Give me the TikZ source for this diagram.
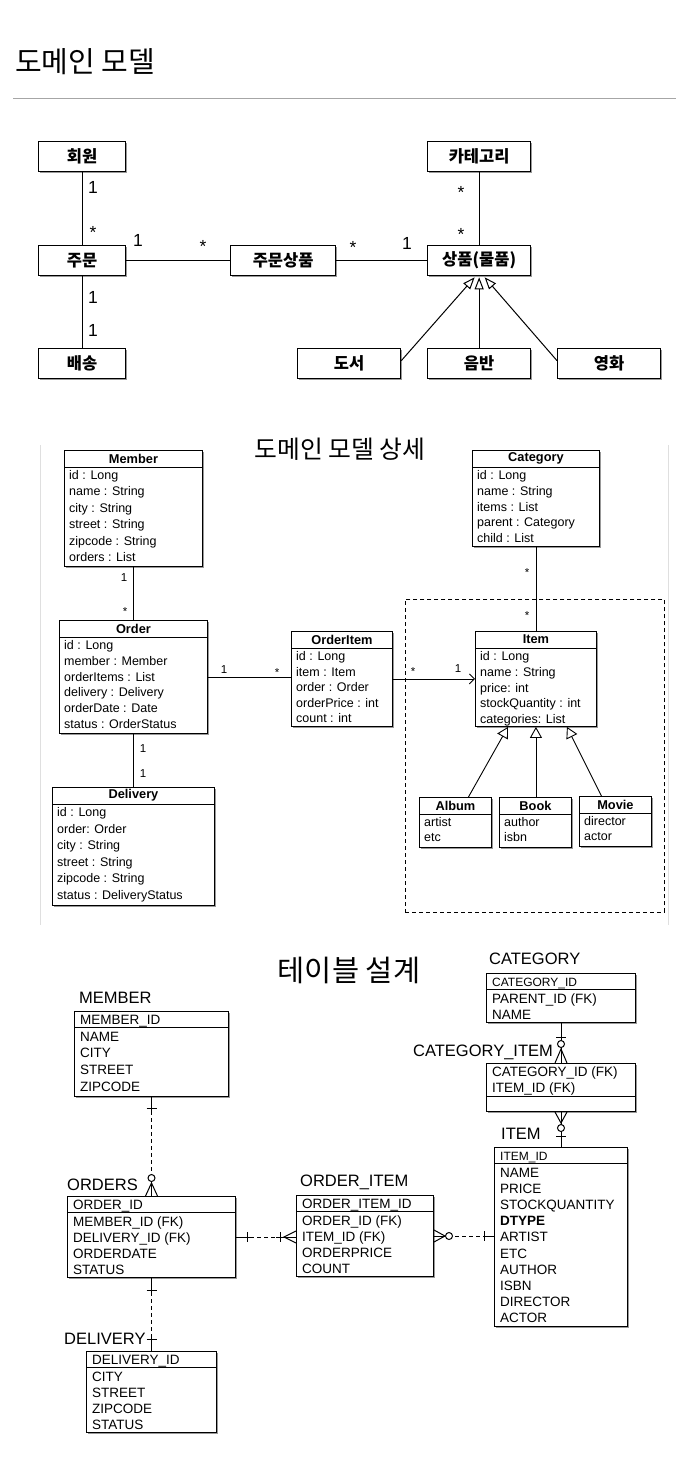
\documentclass[tikz,border=0pt]{standalone}
\usepackage{fontspec}
\setmainfont{Liberation Sans}
\newfontfamily\kr{Noto Sans CJK KR}
\usetikzlibrary{arrows.meta,shadows,calc}
\tikzset{
  shd/.style={drop shadow={shadow xshift=1.6pt,shadow yshift=-1.6pt,opacity=0.4,fill=black}},
  krbox/.style={draw, line width=1.3pt, fill=white, shd, anchor=north west, minimum height=30pt, inner sep=0pt, font=\kr\bfseries\fontsize{16.5}{18}\selectfont},
  krline/.style={line width=1.1pt},
  krinh/.style={line width=1pt, -{Triangle[open, length=12pt, width=9pt]}},
  krnum/.style={font=\fontsize{17.5}{18}\selectfont, anchor=base, inner sep=0pt},
  umlbox/.style={draw, line width=0.9pt, fill=white, shd, anchor=north west, inner sep=0pt},
  umlsep/.style={line width=0.9pt},
  umlhead/.style={font=\bfseries\fontsize{12.8}{14}\selectfont, inner sep=0pt},
  umlrow/.style={font=\fontsize{12.5}{14}\selectfont, inner sep=0pt, anchor=base west},
  umlline/.style={line width=0.9pt},
  umlnum/.style={font=\fontsize{11.5}{12}\selectfont, anchor=base, inner sep=0pt},
  erdbox/.style={draw, line width=1pt, fill=white, shd, anchor=north west, inner sep=0pt},
  erdrow/.style={font=\fontsize{13.5}{15}\selectfont, inner sep=0pt, anchor=base west},
  erdtitle/.style={font=\fontsize{16.5}{18}\selectfont, inner sep=0pt, anchor=base west},
  erdl/.style={line width=1pt},
  erddash/.style={line width=1pt, dash pattern=on 4pt off 3pt},
}
\newcommand{\umlclass}[8]{%
  \node[umlbox, minimum width=#4pt, minimum height=#5pt] (#1) at (#2,#3) {};
  \draw[umlsep] ([yshift=-17pt]#1.north west) -- ([yshift=-17pt]#1.north east);
  \node[umlhead] (#1-h) at ([yshift=-8.5pt]#1.north) {#6};
  \foreach \t [count=\i] in {#7}{\node[umlrow] (#1-\i) at ([xshift=5pt,yshift={-29.5pt-(\i-1)*#8pt}]#1.north west) {\t};}%
}
\newcommand{\erdtable}[8]{%
  \node[erdbox, minimum width=#4pt, minimum height=#5pt] (#1) at (#2,#3) {};
  \draw[erdl] ([yshift=-16pt]#1.north west) -- ([yshift=-16pt]#1.north east);
  \node[erdrow] (#1-pk) at ([xshift=6pt,yshift=-13pt]#1.north west) {#6};
  \foreach \t [count=\i] in {#7}{\node[erdrow] (#1-\i) at ([xshift=6pt,yshift={-30pt-(\i-1)*#8pt}]#1.north west) {\t};}%
}
\begin{document}
\begin{tikzpicture}[x=1pt,y=-1pt]
\useasboundingbox (0,0) rectangle (676,1470);
% ---------- title ----------
\node[anchor=west, inner sep=0pt, font=\kr\fontsize{29}{32}\selectfont] (title1) at (15,62) {도메인 모델};
\draw[gray!70, line width=0.8pt] (13,98) -- (676,98);

% ---------- section 1 ----------
\node[krbox, minimum width=87pt] (hw) at (38,141) {회원};
\node[krbox, minimum width=103pt] (cat) at (427,141) {카테고리};
\node[krbox, minimum width=87pt] (jm) at (38,245) {주문};
\node[krbox, minimum width=105pt] (jmsp) at (230,245) {주문상품};
\node[krbox, minimum width=103pt] (sp) at (427,245) {상품(물품)};
\node[krbox, minimum width=87pt] (bs) at (38,348) {배송};
\node[krbox, minimum width=103pt] (ds) at (297,348) {도서};
\node[krbox, minimum width=103pt] (eb) at (427,348) {음반};
\node[krbox, minimum width=103pt] (yh) at (557,348) {영화};

\draw[krline] (hw) -- (jm);
\draw[krline] (jm) -- (jmsp);
\draw[krline] (jmsp) -- (sp);
\draw[krline] (cat) -- (sp);
\draw[krline] (jm) -- (bs);
\draw[krinh] ([yshift=3pt]ds.east) -- ([xshift=-4.5pt,yshift=-1pt]sp.south);
\draw[krinh] (eb.north) -- ([yshift=-1pt]sp.south);
\draw[krinh] ([yshift=3pt]yh.west) -- ([xshift=5.5pt,yshift=-1pt]sp.south);

\node[krnum] (n1) at (93,193) {1};
\node[krnum] (n2) at (93,238) {*};
\node[krnum] (n3) at (93,303) {1};
\node[krnum] (n4) at (93,336) {1};
\node[krnum] (n5) at (138,246) {1};
\node[krnum] (n6) at (203,252) {*};
\node[krnum] (n7) at (353,253) {*};
\node[krnum] (n8) at (407,249) {1};
\node[krnum] (n9) at (461,198) {*};
\node[krnum] (n10) at (461,240) {*};

% ---------- section 2 ----------
\draw[gray!25, line width=1pt] (40,445) -- (40,925);
\draw[gray!25, line width=1pt] (668,445) -- (668,925);
\node[inner sep=0pt, font=\kr\fontsize{24.8}{27}\selectfont] (title2) at (340,449) {도메인 모델 상세};
\node[draw, line width=0.9pt, dash pattern=on 4pt off 3pt, anchor=north west, minimum width=259pt, minimum height=313pt, inner sep=0pt] (pkg) at (405,599) {};

\umlclass{member}{64}{450}{138}{116}{Member}{id : Long, name : String, city : String, street : String, zipcode : String, orders : List}{16.4}
\umlclass{order}{59}{620}{148}{113}{Order}{id : Long, member : Member, orderItems : List, delivery : Delivery, orderDate : Date, status : OrderStatus}{15.8}
\umlclass{oitem}{291}{631}{101}{95}{OrderItem}{id : Long, item : Item, order : Order, orderPrice : int, count : int}{15.5}
\umlclass{category}{472}{450}{127}{96}{Category}{id : Long, name : String, items : List, parent : Category, child : List}{15.75}
\umlclass{item}{475}{631}{121}{95}{Item}{id : Long, name : String, price: int, stockQuantity : int, categories: List}{15.75}
\umlclass{delivery}{52}{787}{162}{118}{Delivery}{id : Long, order: Order, city : String, street : String, zipcode : String, status : DeliveryStatus}{16.6}
\umlclass{album}{419}{797}{72}{50}{Album}{artist, etc}{15}
\umlclass{book}{499}{797}{72}{50}{Book}{author, isbn}{15}
\umlclass{movie}{579}{796}{72}{50}{Movie}{director, actor}{15}

\draw[umlline] (member) -- (order);
\draw[umlline] (order.east) -- (order.east -| oitem.west);
\draw[umlline, -{Straight Barb[length=5pt, width=10pt]}] (oitem.east) -- (item.west);
\draw[umlline] (category) -- (item);
\draw[umlline] (order) -- (delivery);
\draw[umlline, -{Triangle[fill=white, length=11pt, width=12pt]}] ([xshift=13pt]album.north) -- ([xshift=-28pt]item.south);
\draw[umlline, -{Triangle[fill=white, length=11pt, width=12pt]}] (item.south |- book.north) -- (item.south);
\draw[umlline, -{Triangle[fill=white, length=11pt, width=12pt]}] ([xshift=-14pt]movie.north) -- ([xshift=31pt]item.south);

\node[umlnum] (u1) at (124,581) {1};
\node[umlnum] (u2) at (125,615) {*};
\node[umlnum] (u3) at (224,673) {1};
\node[umlnum] (u4) at (277,676) {*};
\node[umlnum] (u5) at (413,675) {*};
\node[umlnum] (u6) at (458,672) {1};
\node[umlnum] (u7) at (527,576) {*};
\node[umlnum] (u8) at (527,619) {*};
\node[umlnum] (u9) at (143,752) {1};
\node[umlnum] (u10) at (143,777) {1};

% ---------- section 3 ----------
\node[inner sep=0pt, font=\kr\fontsize{29.5}{32}\selectfont] (title3) at (349,970) {테이블 설계};

\erdtable{memberT}{74}{1011}{154}{85}{MEMBER\_ID}{NAME, CITY, STREET, ZIPCODE}{16.7}
\node[erdtitle] (memberL) at (79,1003) {MEMBER};
\erdtable{ordersT}{67}{1196}{168}{81}{ORDER\_ID}{MEMBER\_ID (FK), DELIVERY\_ID (FK), ORDERDATE, STATUS}{16}
\node[erdtitle] (ordersL) at (67,1190) {ORDERS};
\erdtable{oitemT}{296}{1195}{137}{81}{ORDER\_ITEM\_ID}{ORDER\_ID (FK), ITEM\_ID (FK), ORDERPRICE, COUNT}{16}
\node[erdtitle] (oitemL) at (300,1186) {ORDER\_ITEM};
\erdtable{itemT}{494}{1147}{133}{179}{\fontsize{12}{14}\selectfont ITEM\_ID}{NAME, PRICE, STOCKQUANTITY, \textbf{DTYPE}, ARTIST, ETC, AUTHOR, ISBN, DIRECTOR, ACTOR}{16.2}
\node[erdtitle] (itemL) at (501,1139) {ITEM};
\erdtable{deliveryT}{86}{1351}{130}{81}{DELIVERY\_ID}{CITY, STREET, ZIPCODE, STATUS}{16}
\node[erdtitle] (deliveryL) at (64,1344) {DELIVERY};
\erdtable{categoryT}{486}{973}{149}{49}{\fontsize{12}{14}\selectfont CATEGORY\_ID}{PARENT\_ID (FK), NAME}{16}
\node[erdtitle] (categoryL) at (489,964) {CATEGORY};
\node[erdbox, minimum width=149pt, minimum height=48pt] (catitemT) at (486,1063) {};
\draw[erdl] ([yshift=-33pt]catitemT.north west) -- ([yshift=-33pt]catitemT.north east);
\node[erdrow] (catitemT-1) at ([xshift=6pt,yshift=-13pt]catitemT.north west) {CATEGORY\_ID (FK)};
\node[erdrow] (catitemT-2) at ([xshift=6pt,yshift=-29pt]catitemT.north west) {ITEM\_ID (FK)};
\node[erdtitle] (catitemL) at (413,1056) {CATEGORY\_ITEM};

% MEMBER - ORDERS
\draw[erddash] (memberT.south) -- (ordersT.north);
\draw[erdl] (memberT.south) -- ++(0,17);
\draw[erdl] ($(memberT.south)+(-5,11)$) -- ++(10,0);
\draw[erdl] (ordersT.north) -- ++(0,-13);
\draw[erdl] ($(ordersT.north)+(-6,0)$) -- ($(ordersT.north)+(0,-13)$) -- ($(ordersT.north)+(6,0)$);
\draw[erdl, fill=white] ($(ordersT.north)+(0,-18)$) circle (3.5pt);
% ORDERS - DELIVERY
\draw[erddash] (ordersT.south) -- (deliveryT.north);
\draw[erdl] (ordersT.south) -- ++(0,18);
\draw[erdl] ($(ordersT.south)+(-5,12)$) -- ++(10,0);
\draw[erdl] (deliveryT.north) -- ++(0,-16);
\draw[erdl] ($(deliveryT.north)+(-5,-12)$) -- ++(10,0);
% ORDERS - ORDER_ITEM
\coordinate (oa) at (ordersT.east);
\coordinate (ob) at (ordersT.east -| oitemT.west);
\draw[erddash] (oa) -- (ob);
\draw[erdl] (oa) -- ++(17,0);
\draw[erdl] ($(oa)+(11,-5)$) -- ++(0,10);
\draw[erdl] (ob) -- ++(-20,0);
\draw[erdl] ($(ob)+(-16,-5)$) -- ++(0,10);
\draw[erdl] ($(ob)+(0,-6)$) -- ($(ob)+(-12,0)$) -- ($(ob)+(0,6)$);
% ORDER_ITEM - ITEM
\coordinate (oc) at (oitemT.east);
\coordinate (od) at (oitemT.east -| itemT.west);
\draw[erddash] (oc) -- (od);
\draw[erdl] (oc) -- ++(11,0);
\draw[erdl] ($(oc)+(0,-6)$) -- ($(oc)+(11,0)$) -- ($(oc)+(0,6)$);
\draw[erdl, fill=white] ($(oc)+(15,0)$) circle (3.5pt);
\draw[erdl] (od) -- ++(-10,0);
\draw[erdl] ($(od)+(-10,-5)$) -- ++(0,10);
% CATEGORY - CATEGORY_ITEM
\draw[erdl] (categoryT.south) -- (catitemT.north);
\draw[erdl] ($(categoryT.south)+(-5,14)$) -- ++(10,0);
\draw[erdl] ($(catitemT.north)+(-6,0)$) -- ($(catitemT.north)+(0,-14)$) -- ($(catitemT.north)+(6,0)$);
\draw[erdl, fill=white] ($(catitemT.north)+(0,-19)$) circle (3.5pt);
% CATEGORY_ITEM - ITEM
\draw[erdl] (catitemT.south) -- (itemT.north);
\draw[erdl] ($(catitemT.south)+(-6,0)$) -- ($(catitemT.south)+(0,11)$) -- ($(catitemT.south)+(6,0)$);
\draw[erdl, fill=white] ($(catitemT.south)+(0,16)$) circle (3.5pt);
\draw[erdl] ($(itemT.north)+(-5,-11)$) -- ++(10,0);
\end{tikzpicture}
\end{document}
